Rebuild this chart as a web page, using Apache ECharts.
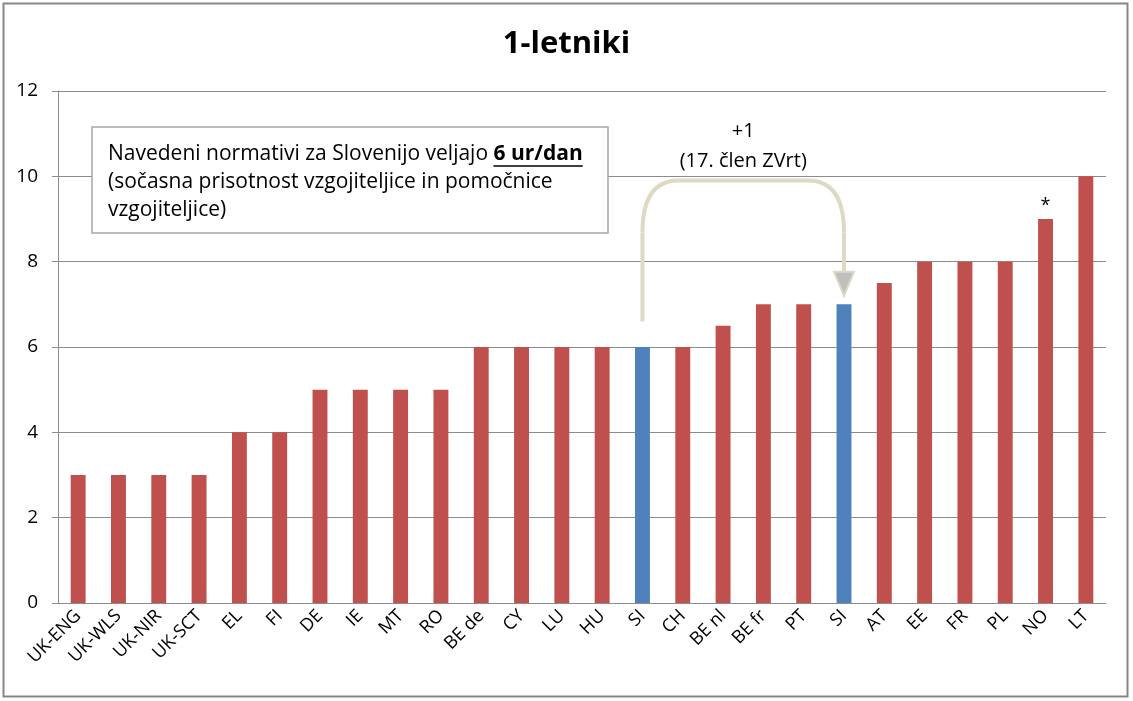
<!DOCTYPE html>
<html>
<head>
<meta charset="utf-8">
<script src="https://cdn.jsdelivr.net/npm/echarts@6/dist/echarts.min.js"></script>
<style>
  html, body { margin: 0; padding: 0; background: #fff; }
  #main { width: 1133px; height: 701px; }
</style>
</head>
<body>
<div id="main"></div>
<script>
// kategorije in vrednosti (ur/dan)
var categories = ['UK-ENG','UK-WLS','UK-NIR','UK-SCT','EL','FI','DE','IE','MT','RO','BE de','CY','LU','HU','SI','CH','BE nl','BE fr','PT','SI','AT','EE','FR','PL','NO','LT'];
var values = [3,3,3,3,4,4,5,5,5,5,6,6,6,6,6,6,6.5,7,7,7,7.5,8,8,8,9,10];
var yTicks = [0,2,4,6,8,10,12];
var starred = ['NO'];

var RED = '#C0504D', BLUE = '#4F81BD', GRID = '#8c8c8c';
var FONT = '"Open Sans", "Liberation Sans", sans-serif';

var myChart = echarts.init(document.getElementById('main'));

var barData = values.map(function (v, i) {
  var name = categories[i];
  return {
    value: v,
    itemStyle: { color: name === 'SI' ? BLUE : RED },
    label: { show: starred.indexOf(name) >= 0 }
  };
});

var option = {
  backgroundColor: '#fff',
  animation: false,
  title: {
    text: '1-letniki',
    left: 'center',
    top: 24,
    textStyle: { fontFamily: FONT, fontSize: 31, fontWeight: 'bold', color: '#000' }
  },
  grid: { left: 58, right: 27, top: 91, bottom: 98 },
  xAxis: {
    type: 'category',
    data: categories,
    axisLine: { lineStyle: { color: GRID, width: 1 } },
    axisTick: { length: 6, lineStyle: { color: GRID } },
    axisLabel: { rotate: 45, fontSize: 18, color: '#000', fontFamily: FONT, margin: 10, interval: 0 }
  },
  yAxis: {
    type: 'value',
    min: yTicks[0],
    max: yTicks[yTicks.length - 1],
    interval: 2,
    axisLine: { show: true, lineStyle: { color: GRID } },
    axisTick: { show: true, length: 6, lineStyle: { color: GRID } },
    splitLine: { lineStyle: { color: GRID } },
    axisLabel: { fontSize: 19, color: '#000', fontFamily: FONT, margin: 20 }
  },
  series: [{
    type: 'bar',
    data: barData,
    barWidth: '37%',
    label: {
      position: 'top',
      distance: 4,
      formatter: '*',
      fontSize: 18,
      color: '#000',
      fontFamily: FONT
    }
  }]
};
myChart.setOption(option);

// opomba in puscica (pozicije iz osi)
var idxA = categories.indexOf('SI');
var idxB = categories.lastIndexOf('SI');
var pA = myChart.convertToPixel({ seriesIndex: 0 }, [idxA, 6.6]);
var pB = myChart.convertToPixel({ seriesIndex: 0 }, [idxB, 7.2]);
var topY = myChart.convertToPixel({ seriesIndex: 0 }, [idxA, 9.9])[1];
var x1 = pA[0], x2 = pB[0], rx = 36, ry = 52;
var headY = pB[1] - 24;
var arrowStyle = { fill: null, stroke: '#DDD9C3', lineWidth: 4 };

var BOX_FS = 21;
var ctx = document.createElement('canvas').getContext('2d');
ctx.font = BOX_FS + 'px ' + FONT;
var w1 = ctx.measureText('Navedeni normativi za Slovenijo veljajo ').width;
ctx.font = 'bold ' + BOX_FS + 'px ' + FONT;
var w2 = ctx.measureText('6 ur/dan').width;
var tx = 108, ty1 = 154;

myChart.setOption({
  graphic: [
    { type: 'rect', shape: { x: 3.5, y: 3.5, width: 1124, height: 693 },
      style: { fill: null, stroke: '#878787', lineWidth: 2 }, silent: true },
    { type: 'rect', shape: { x: 92, y: 127, width: 516, height: 106 },
      style: { fill: '#fff', stroke: '#a6a6a6', lineWidth: 1.5 } },
    { type: 'text', x: tx, y: ty1, style: {
        text: '{n|Navedeni normativi za Slovenijo veljajo }{b|6 ur/dan}',
        rich: {
          n: { fontSize: BOX_FS, fontFamily: FONT, fill: '#000' },
          b: { fontSize: BOX_FS, fontFamily: FONT, fontWeight: 'bold', fill: '#000' }
        },
        verticalAlign: 'middle'
      } },
    { type: 'line', shape: { x1: tx + w1, y1: ty1 + 12, x2: tx + w1 + w2, y2: ty1 + 12 },
      style: { stroke: '#000', lineWidth: 1.5 } },
    { type: 'text', x: tx, y: ty1 + 28, style: {
        text: '(sočasna prisotnost vzgojiteljice in pomočnice', fontSize: BOX_FS, fontFamily: FONT,
        fill: '#000', verticalAlign: 'middle' } },
    { type: 'text', x: tx, y: ty1 + 56, style: {
        text: 'vzgojiteljice)', fontSize: BOX_FS, fontFamily: FONT,
        fill: '#000', verticalAlign: 'middle' } },
    { type: 'polyline', shape: { points: [[x1, pA[1]], [x1, topY + ry]] }, style: arrowStyle },
    { type: 'bezierCurve', shape: { x1: x1, y1: topY + ry, cpx1: x1, cpy1: topY, x2: x1 + rx, y2: topY }, style: arrowStyle },
    { type: 'polyline', shape: { points: [[x1 + rx, topY], [x2 - rx, topY]] }, style: arrowStyle },
    { type: 'bezierCurve', shape: { x1: x2 - rx, y1: topY, cpx1: x2, cpy1: topY, x2: x2, y2: topY + ry }, style: arrowStyle },
    { type: 'polyline', shape: { points: [[x2, topY + ry], [x2, headY]] }, style: arrowStyle },
    { type: 'polygon', shape: { points: [[x2 - 10, headY], [x2 + 10, headY], [x2, pB[1]]] },
      style: { fill: '#BFBFBF', stroke: '#DDD9C3', lineWidth: 2 } },
    { type: 'text', x: (x1 + x2) / 2, y: 131, style: {
        text: '+1', fontSize: 20, fontFamily: FONT, fill: '#000',
        align: 'center', verticalAlign: 'middle' } },
    { type: 'text', x: (x1 + x2) / 2, y: 161, style: {
        text: '(17. člen ZVrt)', fontSize: 20, fontFamily: FONT, fill: '#000',
        align: 'center', verticalAlign: 'middle' } }
  ]
});
</script>
</body>
</html>
